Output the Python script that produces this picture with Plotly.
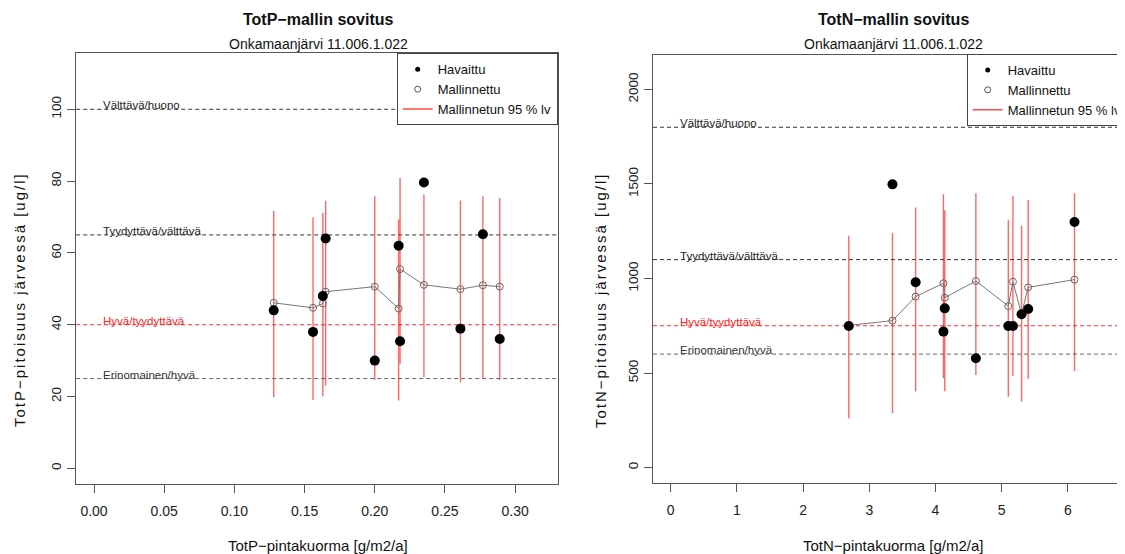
import plotly.graph_objects as go

# ---------------- data ----------------
p_load = [0.128, 0.156, 0.163, 0.165, 0.200, 0.217, 0.218, 0.235, 0.261, 0.277, 0.289]
p_obs = [44.0, 38.0, 48.0, 64.0, 30.0, 62.0, 35.4, 79.6, 38.9, 65.2, 36.0]
p_mod = [46.1, 44.7, 45.9, 49.2, 50.6, 44.5, 55.5, 51.1, 49.9, 51.0, 50.6]
p_lo = [19.8, 19.0, 20.0, 23.1, 24.6, 18.9, 29.1, 25.3, 24.0, 25.1, 24.6]
p_hi = [71.7, 69.9, 71.1, 74.5, 75.8, 69.3, 80.9, 76.3, 74.6, 75.8, 75.3]

n_load = [2.69, 3.35, 3.70, 4.12, 4.14, 4.61, 5.10, 5.17, 5.30, 5.40, 6.10]
n_obs = [749, 1498, 980, 719, 842, 578, 749, 749, 811, 839, 1299]
n_mod = [752, 777, 904, 975, 898, 987, 854, 983, 812, 953, 994]
n_lo = [260, 287, 403, 472, 403, 489, 375, 484, 348, 470, 511]
n_hi = [1226, 1241, 1375, 1446, 1361, 1451, 1308, 1438, 1279, 1415, 1451]

class_names = ["Välttävä/huono", "Tyydyttävä/välttävä", "Hyvä/tyydyttävä", "Erinomainen/hyvä"]
p_limits = [100, 65, 40, 25]
n_limits = [1800, 1100, 750, 600]

p_xticks = [0.00, 0.05, 0.10, 0.15, 0.20, 0.25, 0.30]
p_xticktext = ["0.00", "0.05", "0.10", "0.15", "0.20", "0.25", "0.30"]
p_yticks = [0, 20, 40, 60, 80, 100]
n_xticks = [0, 1, 2, 3, 4, 5, 6]
n_yticks = [0, 500, 1000, 1500, 2000]

# page body has an 8px margin: figure is placed at (8, 8) in the 1125x554 window
OFF = 8
W, H = 1125 - OFF, 554 - OFF
FONT = "Liberation Sans, Arial, Helvetica, sans-serif"
line_cols = ["#333333", "#333333", "#ff3030", "#666666"]
text_cols = ["#222222", "#222222", "#ff2020", "#333333"]


def fx(p):
    return (p - OFF) / W


def fy(p):
    return 1 - (p - OFF) / H


fig = go.Figure()


def ci_xy(xs, lo, hi):
    X, Y = [], []
    for x, a, b in zip(xs, lo, hi):
        X += [x, x, None]
        Y += [a, b, None]
    return X, Y


def add_panel(xs, obs, mod, lo, hi, xa, ya):
    X, Y = ci_xy(xs, lo, hi)
    fig.add_trace(go.Scatter(x=X, y=Y, mode="lines", xaxis=xa, yaxis=ya,
                             line=dict(color="rgba(255,0,0,0.6)", width=1.4),
                             showlegend=False, hoverinfo="skip"))
    fig.add_trace(go.Scatter(x=xs, y=mod, mode="lines+markers", xaxis=xa, yaxis=ya,
                             line=dict(color="#777777", width=1),
                             marker=dict(symbol="circle-open", size=7,
                                         color="#666666", line=dict(width=1)),
                             showlegend=False))
    fig.add_trace(go.Scatter(x=xs, y=obs, mode="markers", xaxis=xa, yaxis=ya,
                             marker=dict(symbol="circle", size=10, color="black"),
                             showlegend=False))


add_panel(p_load, p_obs, p_mod, p_lo, p_hi, "x", "y")
add_panel(n_load, n_obs, n_mod, n_lo, n_hi, "x2", "y2")

# legend-only traces
for lg, xa, ya in [("legend", "x", "y"), ("legend2", "x2", "y2")]:
    fig.add_trace(go.Scatter(x=[None], y=[None], mode="markers", name="Havaittu",
                             marker=dict(symbol="circle", size=5, color="black"),
                             legend=lg, xaxis=xa, yaxis=ya))
    fig.add_trace(go.Scatter(x=[None], y=[None], mode="markers", name="Mallinnettu",
                             marker=dict(symbol="circle-open", size=6, color="#555555"),
                             legend=lg, xaxis=xa, yaxis=ya))
    fig.add_trace(go.Scatter(x=[None], y=[None], mode="lines", name="Mallinnetun 95 % lv",
                             line=dict(color="rgba(255,0,0,0.7)", width=1.4),
                             legend=lg, xaxis=xa, yaxis=ya))

shapes = []
annotations = []
for limits, xr, yr in [(p_limits, "x", "y"), (n_limits, "x2", "y2")]:
    for name, val, lc, tc in zip(class_names, limits, line_cols, text_cols):
        shapes.append(dict(type="line", xref=xr + " domain", yref=yr, x0=0, x1=1,
                           y0=val, y1=val, line=dict(color=lc, width=1, dash="4px,3px"),
                           layer="below"))
        annotations.append(dict(xref=xr, yref=yr, x=0, y=val, text=name, showarrow=False,
                                xanchor="left", yanchor="bottom", xshift=7, yshift=-4,
                                font=dict(size=11.5, color=tc, family=FONT)))

# titles
for cx, t, xl, yl, ylx in [(318, "TotP−mallin sovitus", "TotP−pintakuorma [g/m2/a]",
                             "TotP−pitoisuus järvessä [ug/l]", 19),
                            (893, "TotN−mallin sovitus", "TotN−pintakuorma [g/m2/a]",
                             "TotN−pitoisuus järvessä [ug/l]", 600)]:
    annotations.append(dict(xref="paper", yref="paper", x=fx(cx), y=fy(19), text="<b>" + t + "</b>",
                            showarrow=False, xanchor="center", yanchor="middle",
                            font=dict(size=16, color="#111111", family=FONT)))
    annotations.append(dict(xref="paper", yref="paper", x=fx(cx), y=fy(44),
                            text="Onkamaanjärvi 11.006.1.022",
                            showarrow=False, xanchor="center", yanchor="middle",
                            font=dict(size=14, color="#111111", family=FONT)))
    annotations.append(dict(xref="paper", yref="paper", x=fx(cx), y=fy(545), text=xl,
                            showarrow=False, xanchor="center", yanchor="middle",
                            font=dict(size=15, color="#111111", family=FONT)))
    annotations.append(dict(xref="paper", yref="paper", x=fx(ylx), y=fy(300),
                            text='<span style="letter-spacing:2px">' + yl + '</span>',
                            textangle=-90, showarrow=False, xanchor="center", yanchor="middle",
                            font=dict(size=15, color="#111111", family=FONT)))

axis_common = dict(showgrid=False, zeroline=False, showline=True, linecolor="#555555",
                   linewidth=1, ticks="outside", ticklen=8, tickcolor="#555555",
                   tickfont=dict(size=14, color="#222222", family=FONT))
ytickfont = dict(size=13.5, color="#222222", family=FONT)

fig.update_layout(
    width=W, height=H,
    margin=dict(l=0, r=0, t=0, b=0, autoexpand=False),
    paper_bgcolor="white", plot_bgcolor="white",
    font=dict(family=FONT, color="#111111"),
    shapes=shapes, annotations=annotations,
    xaxis=dict(domain=[fx(76.2), fx(558.4)], range=[-0.0127, 0.3308], anchor="y",
               tickvals=p_xticks, ticktext=p_xticktext, mirror=True,
               ticklabelstandoff=6, **axis_common),
    yaxis=dict(domain=[fy(484.3), fy(53.1)], range=[-4.45, 115.65], anchor="x",
               tickvals=p_yticks, tickangle=-90, mirror=True, ticklabelstandoff=1,
               **{**axis_common, "tickfont": ytickfont}),
    xaxis2=dict(domain=[fx(653.0), 1.0], range=[-0.268, 6.863], anchor="y2",
                tickvals=n_xticks, mirror=True, ticklabelstandoff=6, **axis_common),
    yaxis2=dict(domain=[fy(483.4), fy(54.7)], range=[-84, 2184], anchor="x2",
                tickvals=n_yticks, tickangle=-90, mirror=False, ticklabelstandoff=1,
                **{**axis_common, "tickfont": ytickfont}),
    legend=dict(x=fx(557.7), y=fy(53.3), xanchor="right", yanchor="top",
                bgcolor="white", bordercolor="#444444", borderwidth=1,
                font=dict(size=13, color="#111111", family=FONT), tracegroupgap=0),
    legend2=dict(x=fx(966.7), y=fy(54.0), xanchor="left", yanchor="top",
                 bgcolor="white", bordercolor="#444444", borderwidth=1,
                 font=dict(size=13, color="#111111", family=FONT), tracegroupgap=0),
    hovermode=False,
)

fig.write_html("out.html")
